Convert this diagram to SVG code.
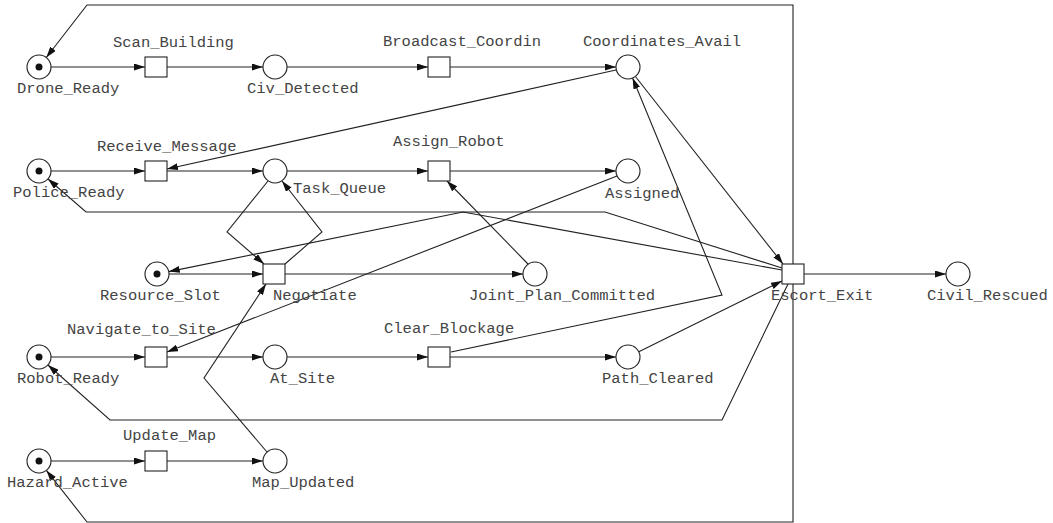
<svg xmlns="http://www.w3.org/2000/svg" width="1053" height="523" viewBox="0 0 1053 523">
<style>
.p{fill:#fff;stroke:#222;stroke-width:1.1}
.t{fill:#fff;stroke:#222;stroke-width:1.1}
.tok{fill:#111}
.c{fill:none;stroke:#222;stroke-width:1.1}
.a{marker-end:url(#ah)}
text{font-family:"Liberation Mono","Courier New",monospace;font-size:15.5px;fill:#444}
</style>
<defs>
<marker id="ah" markerUnits="userSpaceOnUse" markerWidth="11" markerHeight="7" refX="11" refY="3.5" orient="auto">
<path d="M0,0 L11,3.5 L0,7 z" fill="#111"/>
</marker>
</defs>
<rect width="1053" height="523" fill="#fff"/>
<g id="connectors">
<path class="c a" d="M51,67 L145,67"/>
<path class="c a" d="M167,67 L263,67"/>
<path class="c a" d="M287,67 L428,67"/>
<path class="c a" d="M450,67 L616,67"/>
<path class="c a" d="M51,171 L145,171"/>
<path class="c a" d="M167,171 L263,171"/>
<path class="c a" d="M287,171 L428,171"/>
<path class="c a" d="M450,171 L616,171"/>
<path class="c a" d="M169,274 L263,274"/>
<path class="c a" d="M285,274 L523,274"/>
<path class="c a" d="M804,274 L946,274"/>
<path class="c a" d="M51,357 L145,357"/>
<path class="c a" d="M167,357 L263,357"/>
<path class="c a" d="M287,357 L428,357"/>
<path class="c a" d="M450,357 L616,357"/>
<path class="c a" d="M51,461 L145,461"/>
<path class="c a" d="M167,461 L263,461"/>
<path class="c a" d="M616,70 L167,169"/>
<path class="c a" d="M617,176 L167,352"/>
<path class="c a" d="M528,264 L447,181"/>
<path class="c a" d="M268,181 L227,232 L264,264"/>
<path class="c a" d="M285,264 L322,232 L282,181"/>
<path class="c a" d="M267,452 L204,378 L266,284"/>
<path class="c a" d="M451,352 L722,295 L632.6,78"/>
<path class="c a" d="M635.4,76.5 L783,264"/>
<path class="c a" d="M638.8,351.7 L782,281"/>
<path class="c a" d="M782,268 L605,212 L86,212 L48,179"/>
<path class="c a" d="M782,270 L463,212 L168.8,271.6"/>
<path class="c a" d="M788,284 L722,420 L110,420 L48,365"/>
<path class="c a" d="M793,264 L793,5 L87,5 L46.3,57.5"/>
<path class="c a" d="M793,284 L793,522 L87,522 L46.4,470.4"/>
</g>
<g id="Drone_Ready"><circle class="p" cx="39" cy="67" r="12"/><circle class="tok" cx="39" cy="67" r="3.5"/><text x="17" y="93">Drone_Ready</text></g>
<g id="Scan_Building"><rect class="t" x="145" y="57" width="22" height="20"/><text x="113" y="47">Scan_Building</text></g>
<g id="Civ_Detected"><circle class="p" cx="275" cy="67" r="12"/><text x="247" y="93">Civ_Detected</text></g>
<g id="Broadcast_Coordin"><rect class="t" x="428" y="57" width="22" height="20"/><text x="383" y="46">Broadcast_Coordin</text></g>
<g id="Coordinates_Avail"><circle class="p" cx="628" cy="67" r="12"/><text x="583" y="46">Coordinates_Avail</text></g>
<g id="Police_Ready"><circle class="p" cx="39" cy="171" r="12"/><circle class="tok" cx="39" cy="171" r="3.5"/><text x="13" y="197">Police_Ready</text></g>
<g id="Receive_Message"><rect class="t" x="145" y="161" width="22" height="20"/><text x="97" y="151">Receive_Message</text></g>
<g id="Task_Queue"><circle class="p" cx="275" cy="171" r="12"/><text x="293" y="193">Task_Queue</text></g>
<g id="Assign_Robot"><rect class="t" x="428" y="161" width="22" height="20"/><text x="393" y="146">Assign_Robot</text></g>
<g id="Assigned"><circle class="p" cx="628" cy="171" r="12"/><text x="605" y="198">Assigned</text></g>
<g id="Resource_Slot"><circle class="p" cx="157" cy="274" r="12"/><circle class="tok" cx="157" cy="274" r="3.5"/><text x="100" y="300">Resource_Slot</text></g>
<g id="Negotiate"><rect class="t" x="263" y="264" width="22" height="20"/><text x="273" y="300">Negotiate</text></g>
<g id="Joint_Plan_Committed"><circle class="p" cx="535" cy="274" r="12"/><text x="469" y="300">Joint_Plan_Committed</text></g>
<g id="Escort_Exit"><rect class="t" x="782" y="264" width="22" height="20"/><text x="771" y="300">Escort_Exit</text></g>
<g id="Civil_Rescued"><circle class="p" cx="958" cy="274" r="12"/><text x="927" y="300">Civil_Rescued</text></g>
<g id="Robot_Ready"><circle class="p" cx="39" cy="357" r="12"/><circle class="tok" cx="39" cy="357" r="3.5"/><text x="17" y="383">Robot_Ready</text></g>
<g id="Navigate_to_Site"><rect class="t" x="145" y="347" width="22" height="20"/><text x="67" y="334">Navigate_to_Site</text></g>
<g id="At_Site"><circle class="p" cx="275" cy="357" r="12"/><text x="270" y="383">At_Site</text></g>
<g id="Clear_Blockage"><rect class="t" x="428" y="347" width="22" height="20"/><text x="384" y="333">Clear_Blockage</text></g>
<g id="Path_Cleared"><circle class="p" cx="628" cy="357" r="12"/><text x="602" y="383">Path_Cleared</text></g>
<g id="Hazard_Active"><circle class="p" cx="39" cy="461" r="12"/><circle class="tok" cx="39" cy="461" r="3.5"/><text x="7" y="487">Hazard_Active</text></g>
<g id="Update_Map"><rect class="t" x="145" y="451" width="22" height="20"/><text x="123" y="440">Update_Map</text></g>
<g id="Map_Updated"><circle class="p" cx="275" cy="461" r="12"/><text x="252" y="487">Map_Updated</text></g>
</svg>
